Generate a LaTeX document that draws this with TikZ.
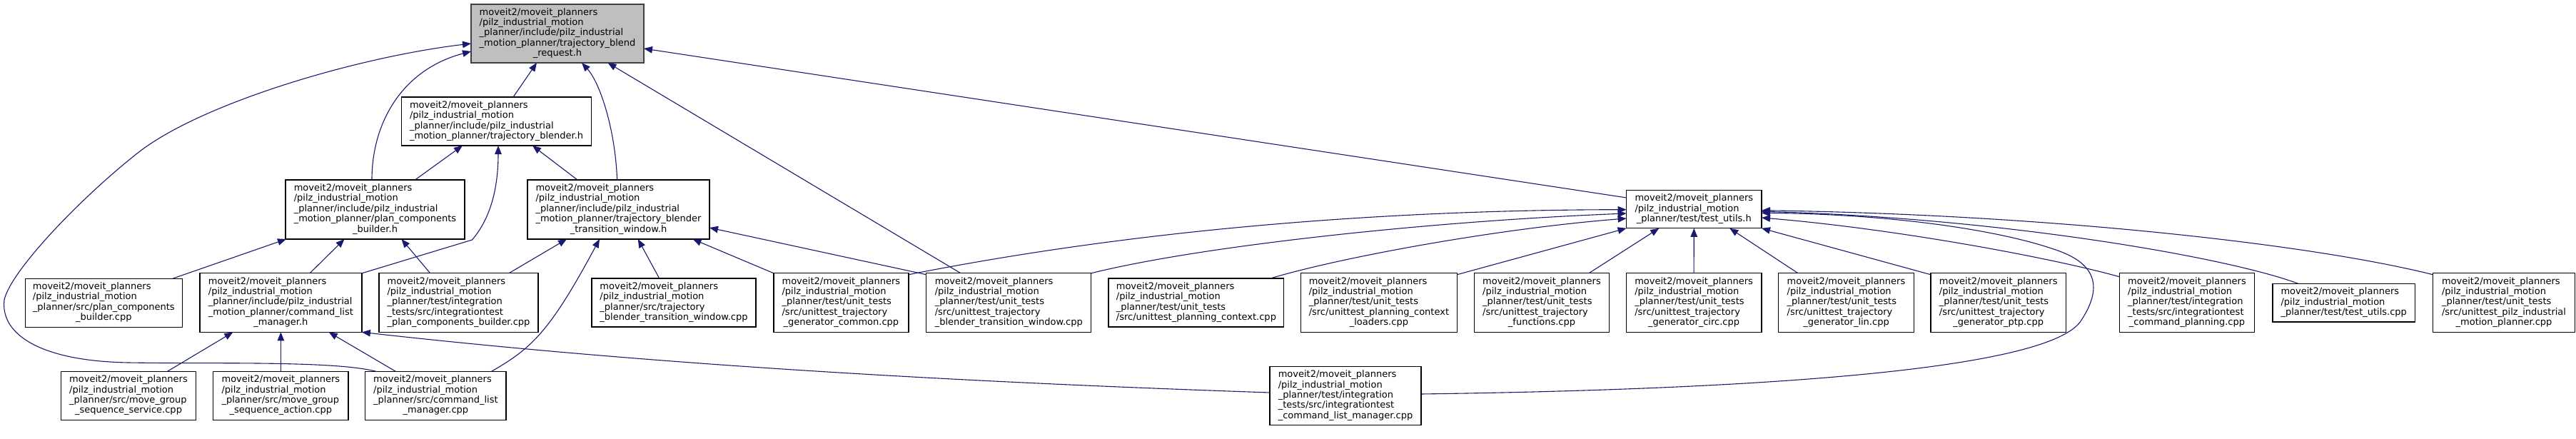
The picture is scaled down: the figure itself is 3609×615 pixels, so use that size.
\documentclass[tikz,border=0pt]{standalone}
\usepackage{fontspec}
\setmainfont{DejaVu Sans}
\usetikzlibrary{arrows.meta,calc}
\definecolor{edgecol}{HTML}{191970}
\definecolor{rootfill}{HTML}{BFBFBF}
\definecolor{rootdraw}{HTML}{404040}
\newcommand{\doxlbl}[2]{\begin{tabular}{@{}l@{}}#1\\\multicolumn{1}{@{}c@{}}{#2}\end{tabular}}
\tikzset{
  box/.style={draw=black, line width=1.2pt, fill=white, inner sep=0pt, outer sep=0pt,
    font=\fontsize{13}{14.4}\selectfont},
  dep/.style={draw=edgecol, line width=1.1pt, -{Triangle[length=12pt,width=9.5pt]}, edgecol}
}
\begin{document}
\begin{tikzpicture}[x=1pt,y=-1pt]
\useasboundingbox (0,0) rectangle (3609,615);

% row 1
\node[box, fill=rootfill, draw=rootdraw, minimum width=242pt, minimum height=82pt] (root) at (781,47)
  {\doxlbl{moveit2/moveit\_planners\\/pilz\_industrial\_motion\\\_planner/include/pilz\_industrial\\\_motion\_planner/trajectory\_blend}{\_request.h}};
% row 2
\node[box, minimum width=266pt, minimum height=68pt] (TBh) at (695.6,170)
  {\doxlbl{moveit2/moveit\_planners\\/pilz\_industrial\_motion\\\_planner/include/pilz\_industrial}{\_motion\_planner/trajectory\_blender.h}};
% row 3
\node[box, minimum width=251pt, minimum height=83pt] (PCBh) at (525.5,293.5)
  {\doxlbl{moveit2/moveit\_planners\\/pilz\_industrial\_motion\\\_planner/include/pilz\_industrial\\\_motion\_planner/plan\_components}{\_builder.h}};
\node[box, minimum width=255pt, minimum height=83pt] (TBTWh) at (866.5,293.5)
  {\doxlbl{moveit2/moveit\_planners\\/pilz\_industrial\_motion\\\_planner/include/pilz\_industrial\\\_motion\_planner/trajectory\_blender}{\_transition\_window.h}};
\node[box, minimum width=189.4pt, minimum height=53pt] (TUh) at (2373.3,293.3)
  {\doxlbl{moveit2/moveit\_planners\\/pilz\_industrial\_motion}{\_planner/test/test\_utils.h}};
% row 4
\node[box, minimum width=220pt, minimum height=68pt] (PCBcpp) at (145.3,424.2)
  {\doxlbl{moveit2/moveit\_planners\\/pilz\_industrial\_motion\\\_planner/src/plan\_components}{\_builder.cpp}};
\node[box, minimum width=227pt, minimum height=82.5pt] (CLMh) at (393.4,424.1)
  {\doxlbl{moveit2/moveit\_planners\\/pilz\_industrial\_motion\\\_planner/include/pilz\_industrial\\\_motion\_planner/command\_list}{\_manager.h}};
\node[box, minimum width=223pt, minimum height=82.5pt] (ITPCB) at (642.5,424)
  {\doxlbl{moveit2/moveit\_planners\\/pilz\_industrial\_motion\\\_planner/test/integration\\\_tests/src/integrationtest}{\_plan\_components\_builder.cpp}};
\node[box, minimum width=230pt, minimum height=68pt] (TBTWcpp) at (944,424)
  {\doxlbl{moveit2/moveit\_planners\\/pilz\_industrial\_motion\\\_planner/src/trajectory}{\_blender\_transition\_window.cpp}};
\node[box, minimum width=189pt, minimum height=82.5pt] (UTGC) at (1178.4,424)
  {\doxlbl{moveit2/moveit\_planners\\/pilz\_industrial\_motion\\\_planner/test/unit\_tests\\/src/unittest\_trajectory}{\_generator\_common.cpp}};
\node[box, minimum width=231pt, minimum height=82.5pt] (UTBTW) at (1413.3,424)
  {\doxlbl{moveit2/moveit\_planners\\/pilz\_industrial\_motion\\\_planner/test/unit\_tests\\/src/unittest\_trajectory}{\_blender\_transition\_window.cpp}};
\node[box, minimum width=245.7pt, minimum height=68pt] (UPC) at (1675.9,424)
  {\doxlbl{moveit2/moveit\_planners\\/pilz\_industrial\_motion\\\_planner/test/unit\_tests}{/src/unittest\_planning\_context.cpp}};
\node[box, minimum width=218.8pt, minimum height=82.5pt] (UPCL) at (1931.9,424)
  {\doxlbl{moveit2/moveit\_planners\\/pilz\_industrial\_motion\\\_planner/test/unit\_tests\\/src/unittest\_planning\_context}{\_loaders.cpp}};
\node[box, minimum width=189pt, minimum height=82.5pt] (UTF) at (2160,424)
  {\doxlbl{moveit2/moveit\_planners\\/pilz\_industrial\_motion\\\_planner/test/unit\_tests\\/src/unittest\_trajectory}{\_functions.cpp}};
\node[box, minimum width=189.8pt, minimum height=82.5pt] (UTGcirc) at (2373.1,424)
  {\doxlbl{moveit2/moveit\_planners\\/pilz\_industrial\_motion\\\_planner/test/unit\_tests\\/src/unittest\_trajectory}{\_generator\_circ.cpp}};
\node[box, minimum width=189.7pt, minimum height=82.5pt] (UTGlin) at (2586.5,424)
  {\doxlbl{moveit2/moveit\_planners\\/pilz\_industrial\_motion\\\_planner/test/unit\_tests\\/src/unittest\_trajectory}{\_generator\_lin.cpp}};
\node[box, minimum width=189.4pt, minimum height=82.5pt] (UTGptp) at (2799.7,424)
  {\doxlbl{moveit2/moveit\_planners\\/pilz\_industrial\_motion\\\_planner/test/unit\_tests\\/src/unittest\_trajectory}{\_generator\_ptp.cpp}};
\node[box, minimum width=189.3pt, minimum height=82.5pt] (ITCP) at (3064,424)
  {\doxlbl{moveit2/moveit\_planners\\/pilz\_industrial\_motion\\\_planner/test/integration\\\_tests/src/integrationtest}{\_command\_planning.cpp}};
\node[box, minimum width=199.5pt, minimum height=53.6pt] (TUcpp) at (3283.7,424.2)
  {\doxlbl{moveit2/moveit\_planners\\/pilz\_industrial\_motion}{\_planner/test/test\_utils.cpp}};
\node[box, minimum width=199pt, minimum height=82.5pt] (UPIMP) at (3508,424)
  {\doxlbl{moveit2/moveit\_planners\\/pilz\_industrial\_motion\\\_planner/test/unit\_tests\\/src/unittest\_pilz\_industrial}{\_motion\_planner.cpp}};
% row 5
\node[box, minimum width=189.7pt, minimum height=67.6pt] (MGSS) at (180,554.4)
  {\doxlbl{moveit2/moveit\_planners\\/pilz\_industrial\_motion\\\_planner/src/move\_group}{\_sequence\_service.cpp}};
\node[box, minimum width=189.3pt, minimum height=67.6pt] (MGSA) at (393.4,554.4)
  {\doxlbl{moveit2/moveit\_planners\\/pilz\_industrial\_motion\\\_planner/src/move\_group}{\_sequence\_action.cpp}};
\node[box, minimum width=197.2pt, minimum height=67.6pt] (CLMcpp) at (610.4,554.4)
  {\doxlbl{moveit2/moveit\_planners\\/pilz\_industrial\_motion\\\_planner/src/command\_list}{\_manager.cpp}};
\node[box, minimum width=212pt, minimum height=82pt] (ITCLM) at (1885,554.7)
  {\doxlbl{moveit2/moveit\_planners\\/pilz\_industrial\_motion\\\_planner/test/integration\\\_tests/src/integrationtest}{\_command\_list\_manager.cpp}};

% edges into root
\draw[dep] ($(TBh.north)+(23.4,0)$) -- ($(root.south)+(-29,0)$);
\draw[dep] ($(PCBh.north)+(-4.5,0)$) .. controls (521,170) and (565,97) .. ($(root.west)+(0,25)$);
\draw[dep] ($(CLMcpp.north)+(-82.4,0)$) .. controls (470,505) and (300,510) .. (180,508)
  .. controls (60,506) and (0,470) .. (6,420)
  .. controls (15,380) and (110,280) .. (192,215)
  .. controls (280,145) and (500,80) .. ($(root.west)+(0,14)$);
\draw[dep] ($(TBTWh.north)+(-1.9,0)$) .. controls (862,180) and (840,115) .. ($(root.south)+(34,0)$);
\draw[dep] ($(UTBTW.north)+(-67.3,0)$) -- ($(root.south)+(70.5,0)$);
\draw[dep] ($(TUh.west)+(0,-16.3)$) -- ($(root.east)+(0,21)$);

% edges into TBh
\draw[dep] ($(PCBh.north)+(56,0)$) -- ($(TBh.south)+(-47.6,0)$);
\draw[dep] ($(TBTWh.north)+(-57.5,0)$) -- ($(TBh.south)+(50.4,0)$);
\draw[dep] (CLMh.north east) -- (661.5,336) .. controls (688,305) and (698,262) .. ($(TBh.south)+(2.4,0)$);

% edges into PCBh
\draw[dep] ($(PCBcpp.north)+(96.7,0)$) -- ($(PCBh.south west)+(1,0)$);
\draw[dep] ($(CLMh.north)+(40.6,0)$) -- ($(PCBh.south)+(-43,0)$);
\draw[dep] ($(ITPCB.north)+(-39.8,0)$) -- ($(PCBh.south)+(37,0)$);

% edges into CLMh
\draw[dep] ($(MGSS.north)+(54,0)$) -- ($(CLMh.south)+(-67,0)$);
\draw[dep] (MGSA.north) -- (CLMh.south);
\draw[dep] ($(CLMcpp.north)+(-55.6,0)$) -- ($(CLMh.south)+(67.3,0)$);
\draw[dep] ($(ITCLM.west)+(0,-4.7)$) .. controls (1400,537) and (950,515) .. (CLMh.south east);

% edges into TBTWh
\draw[dep] ($(ITPCB.north)+(70.5,0)$) -- ($(TBTWh.south)+(-72.5,0)$);
\draw[dep] ($(CLMcpp.north)+(77.6,0)$) .. controls (745,488) and (770,465) .. ($(TBTWh.south)+(-26.5,0)$);
\draw[dep] ($(TBTWcpp.north)+(-20.3,0)$) -- ($(TBTWh.south)+(27.3,0)$);
\draw[dep] (UTGC.north west) -- ($(TBTWh.south)+(104,0)$);
\draw[dep] ($(UTBTW.north west)+(0,2)$) -- ($(TBTWh.east)+(0,25.5)$);

% edges into TUh
\draw[dep] ($(UTGC.north east)+(0,2)$) .. controls (1600,320) and (1950,294) .. ($(TUh.west)+(0,0.4)$);
\draw[dep] (UTBTW.north east) .. controls (1680,345) and (2000,310) .. ($(TUh.west)+(0,5.7)$);
\draw[dep] ($(UPC.north)+(104,0)$) .. controls (1880,360) and (2100,320) .. ($(TUh.west)+(0,12.7)$);
\draw[dep] ($(UPCL.north east)+(0,2)$) -- (TUh.south west);
\draw[dep] ($(UTF.north)+(66,0)$) -- ($(TUh.south)+(-49,0)$);
\draw[dep] (UTGcirc.north) -- (TUh.south);
\draw[dep] ($(UTGlin.north)+(-67.5,0)$) -- ($(TUh.south)+(50,0)$);
\draw[dep] ($(UTGptp.north west)+(0,2)$) -- (TUh.south east);
\draw[dep] ($(ITCP.north west)+(0,5)$) .. controls (2870,360) and (2650,320) .. ($(TUh.east)+(0,11.7)$);
\draw[dep] ($(ITCLM.east)+(0,-2.7)$) .. controls (2500,545) and (2870,515) .. (2915,450)
  .. controls (2945,405) and (2940,370) .. (2880,350)
  .. controls (2800,322) and (2650,300) .. ($(TUh.east)+(0,5)$);
\draw[dep] ($(TUcpp.north)+(-63.7,0)$) .. controls (3120,360) and (2800,305) .. ($(TUh.east)+(0,3)$);
\draw[dep] ($(UPIMP.north west)+(0,2)$) .. controls (3230,340) and (2850,300) .. ($(TUh.east)+(0,1.5)$);
\end{tikzpicture}
\end{document}
